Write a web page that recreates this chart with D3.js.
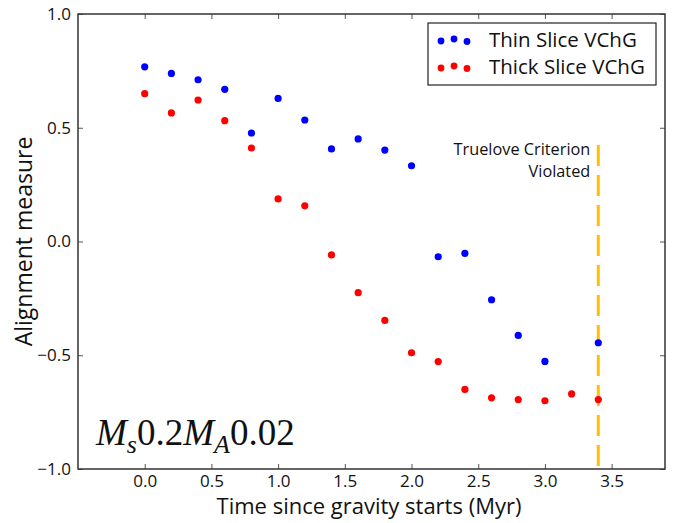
<!DOCTYPE html>
<html>
<head>
<meta charset="utf-8">
<script src="https://cdn.jsdelivr.net/npm/d3@7"></script>
<style>
  body { margin: 0; background: #fff; }
  text { font-family: "Open Sans", "DejaVu Sans", sans-serif; fill: #111; }
</style>
</head>
<body>
<div id="chart"></div>
<script>
// Data
var times = [0.0, 0.2, 0.4, 0.6, 0.8, 1.0, 1.2, 1.4, 1.6, 1.8, 2.0, 2.2, 2.4, 2.6, 2.8, 3.0, 3.2, 3.4];
// thin slice has no point at 3.2
var thinVals = [0.768, 0.739, 0.711, 0.669, 0.477, 0.629, 0.534, 0.407, 0.451, 0.402, 0.333, -0.067, -0.052, -0.256, -0.413, -0.527, null, -0.445];
var thickVals = [0.650, 0.565, 0.622, 0.531, 0.411, 0.187, 0.157, -0.059, -0.225, -0.347, -0.489, -0.528, -0.650, -0.687, -0.695, -0.700, -0.670, -0.695];
var seriesNames = ["Thin Slice VChG", "Thick Slice VChG"];
var xTicks = [0.0, 0.5, 1.0, 1.5, 2.0, 2.5, 3.0, 3.5];
var yTicks = [-1.0, -0.5, 0.0, 0.5, 1.0];
var criterionTime = 3.4;
var criterionTop = 0.45;

var svgWidth = 676;
var svgHeight = 523;
var margin = { top: 14, right: 11, bottom: 54, left: 78 };
var width = svgWidth - margin.left - margin.right;
var height = svgHeight - margin.top - margin.bottom;

var svg = d3.select("#chart").append("svg")
    .attr("width", svgWidth)
    .attr("height", svgHeight);

var chartGroup = svg.append("g")
    .attr("transform", `translate(${margin.left}, ${margin.top})`);

var xScale = d3.scaleLinear().domain([-0.5, 3.9]).range([0, width]);
var yScale = d3.scaleLinear().domain([-1, 1]).range([height, 0]);

var fmt = function (d) { return d3.format(".1f")(d).replace("-", "\u2212"); };

// axes: inward ticks on all four sides, labels only bottom/left
function styleAxis(g) {
    g.select(".domain").remove();
    g.selectAll(".tick line").attr("stroke", "#555").attr("stroke-width", 1);
    g.selectAll(".tick text").style("font-size", "17px").attr("fill", "#111");
}

chartGroup.append("g")
    .attr("transform", `translate(0, ${height})`)
    .call(d3.axisBottom(xScale).tickValues(xTicks).tickFormat(fmt).tickSizeInner(-5).tickPadding(6))
    .call(styleAxis);

chartGroup.append("g")
    .call(d3.axisTop(xScale).tickValues(xTicks).tickFormat("").tickSizeInner(-5))
    .call(styleAxis);

chartGroup.append("g")
    .call(d3.axisLeft(yScale).tickValues(yTicks).tickFormat(fmt).tickSizeInner(-5).tickPadding(7))
    .call(styleAxis);

chartGroup.append("g")
    .attr("transform", `translate(${width}, 0)`)
    .call(d3.axisRight(yScale).tickValues(yTicks).tickFormat("").tickSizeInner(-5))
    .call(styleAxis);

// vertical dashed criterion line
chartGroup.append("line")
    .attr("x1", xScale(criterionTime))
    .attr("x2", xScale(criterionTime))
    .attr("y1", yScale(-1) - 3)
    .attr("y2", yScale(criterionTop))
    .attr("stroke", "#FFC000")
    .attr("stroke-width", 3)
    .attr("stroke-dasharray", "21,9");

chartGroup.append("text")
    .attr("x", xScale(criterionTime) - 8)
    .attr("y", yScale(criterionTop) + 16)
    .attr("text-anchor", "end")
    .style("font-size", "16.3px")
    .text("Truelove Criterion");

chartGroup.append("text")
    .attr("x", xScale(criterionTime) - 8)
    .attr("y", yScale(criterionTop) + 38)
    .attr("text-anchor", "end")
    .style("font-size", "16.3px")
    .text("Violated");

// scatter points
var series = [
    { name: seriesNames[0], values: thinVals, color: "#0000FF" },
    { name: seriesNames[1], values: thickVals, color: "#FF0000" }
];

series.forEach(function (s) {
    var pts = times.map(function (t, i) { return { t: t, v: s.values[i] }; })
        .filter(function (d) { return d.v !== null; });
    chartGroup.append("g").selectAll("circle")
        .data(pts)
        .enter()
        .append("circle")
        .attr("cx", d => xScale(d.t))
        .attr("cy", d => yScale(d.v))
        .attr("r", 3.6)
        .attr("fill", s.color);
});

// plot frame
chartGroup.append("rect")
    .attr("width", width)
    .attr("height", height)
    .attr("fill", "none")
    .attr("stroke", "#333")
    .attr("stroke-width", 1.5);

// legend
var legend = chartGroup.append("g")
    .attr("transform", `translate(${428 - margin.left}, ${23 - margin.top})`);

legend.append("rect")
    .attr("width", 228)
    .attr("height", 62)
    .attr("fill", "#fff")
    .attr("stroke", "#222")
    .attr("stroke-width", 1.2);

var dotOffsets = [[13, 1], [26, -1], [39, 1.5]];
series.forEach(function (s, i) {
    var row = legend.append("g").attr("transform", `translate(0, ${17 + i * 27})`);
    dotOffsets.forEach(function (o) {
        row.append("circle")
            .attr("cx", o[0])
            .attr("cy", o[1])
            .attr("r", 3.4)
            .attr("fill", s.color);
    });
    row.append("text")
        .attr("x", 61)
        .attr("y", 7)
        .style("font-size", "20.5px")
        .text(s.name);
});

// parameter label
var mathLabel = chartGroup.append("text")
    .attr("x", 96 - margin.left)
    .attr("y", 445 - margin.top)
    .style("font-family", "'Liberation Serif', 'DejaVu Serif', serif")
    .style("font-size", "37px");
mathLabel.append("tspan").style("font-style", "italic").text("M");
mathLabel.append("tspan").style("font-style", "italic").style("font-size", "26px").attr("dy", 8).text("s");
mathLabel.append("tspan").attr("dy", -8).text("0.2");
mathLabel.append("tspan").style("font-style", "italic").text("M");
mathLabel.append("tspan").style("font-style", "italic").style("font-size", "26px").attr("dy", 8).text("A");
mathLabel.append("tspan").attr("dy", -8).text("0.02");

// axis labels
chartGroup.append("text")
    .attr("transform", "rotate(-90)")
    .attr("x", -(yScale(0)))
    .attr("y", 32 - margin.left)
    .attr("text-anchor", "middle")
    .style("font-size", "23px")
    .text("Alignment measure");

chartGroup.append("text")
    .attr("x", 369 - margin.left)
    .attr("y", 514 - margin.top)
    .attr("text-anchor", "middle")
    .style("font-size", "22px")
    .text("Time since gravity starts (Myr)");
</script>
</body>
</html>
